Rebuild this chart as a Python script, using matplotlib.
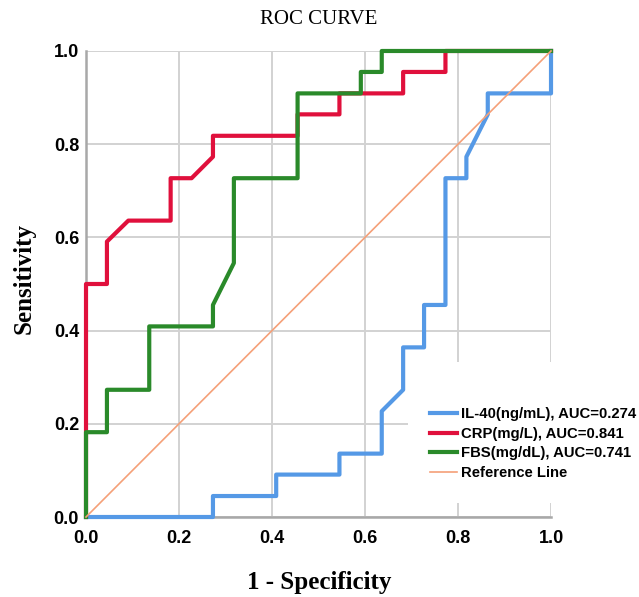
import matplotlib.pyplot as plt
from matplotlib.patches import Rectangle

# ROC points (1 - specificity, sensitivity)
il40_fpr = [0, 0.273, 0.273, 0.409, 0.409, 0.545, 0.545, 0.636, 0.636, 0.682, 0.682,
            0.727, 0.727, 0.773, 0.773, 0.818, 0.818, 0.864, 0.864, 1.0, 1.0]
il40_tpr = [0, 0, 0.045, 0.045, 0.091, 0.091, 0.136, 0.136, 0.227, 0.273, 0.364,
            0.364, 0.455, 0.455, 0.727, 0.727, 0.773, 0.864, 0.909, 0.909, 1.0]

crp_fpr = [0, 0, 0.045, 0.045, 0.091, 0.182, 0.182, 0.227, 0.273, 0.273, 0.455,
           0.455, 0.545, 0.545, 0.682, 0.682, 0.773, 0.773, 1.0]
crp_tpr = [0, 0.5, 0.5, 0.591, 0.636, 0.636, 0.727, 0.727, 0.773, 0.818, 0.818,
           0.864, 0.864, 0.909, 0.909, 0.955, 0.955, 1.0, 1.0]

fbs_fpr = [0, 0, 0.045, 0.045, 0.136, 0.136, 0.273, 0.273, 0.318, 0.318, 0.455,
           0.455, 0.591, 0.591, 0.636, 0.636, 1.0]
fbs_tpr = [0, 0.182, 0.182, 0.273, 0.273, 0.409, 0.409, 0.455, 0.545, 0.727, 0.727,
           0.909, 0.909, 0.955, 0.955, 1.0, 1.0]

ref_line = [0, 1]

labels = ["IL-40(ng/mL), AUC=0.274", "CRP(mg/L), AUC=0.841",
          "FBS(mg/dL), AUC=0.741", "Reference Line"]
ticks = [0.0, 0.2, 0.4, 0.6, 0.8, 1.0]

BLUE = "#5599e6"
RED = "#e0103c"
GREEN = "#2a8a2a"
ORANGE = "#f5a078"

fig = plt.figure(figsize=(6.39, 5.97), dpi=100)
ax = fig.add_axes([0.1346, 0.134, 0.7277, 0.7806])

ax.plot(il40_fpr, il40_tpr, color=BLUE, lw=3, clip_on=False, zorder=3, label=labels[0])
ax.plot(crp_fpr, crp_tpr, color=RED, lw=3, clip_on=False, zorder=4, label=labels[1])
ax.plot(fbs_fpr, fbs_tpr, color=GREEN, lw=3, clip_on=False, zorder=5, label=labels[2])
ax.plot(ref_line, ref_line, color=ORANGE, lw=1.2, clip_on=False, zorder=6, label=labels[3])

ax.set_xlim(0, 1)
ax.set_ylim(0, 1)
ax.set_xticks(ticks)
ax.set_yticks(ticks)
ax.set_xticklabels(["%.1f" % t for t in ticks])
ax.set_yticklabels(["%.1f" % t for t in ticks])
ax.set_axisbelow(True)
ax.grid(True, color="#d2d2d2", lw=1.4)
ax.tick_params(length=0, labelsize=13)
ax.tick_params(axis="x", pad=9)
ax.tick_params(axis="y", pad=5)
for lab in ax.get_xticklabels() + ax.get_yticklabels():
    lab.set_fontfamily("Liberation Sans")
    lab.set_fontweight("bold")

for s in ["top", "right"]:
    ax.spines[s].set_visible(False)
for s in ["left", "bottom"]:
    ax.spines[s].set_color("#a8a8a8")
    ax.spines[s].set_linewidth(1.8)

# white backing behind the legend (hides grid)
ax.add_patch(Rectangle((0.692, 0.03), 0.4, 0.303, transform=ax.transAxes,
                       facecolor="white", edgecolor="none", zorder=1, clip_on=False))

leg = ax.legend(loc="center left", bbox_to_anchor=(0.668, 0.257),
                bbox_transform=fig.transFigure, frameon=False,
                prop={"family": "Liberation Sans", "weight": "bold", "size": 10.7},
                handlelength=1.8, handletextpad=0.3, labelspacing=0.38,
                borderpad=0.2, borderaxespad=0)

fig.text(0.498, 0.968, "ROC CURVE", ha="center", va="center",
         family="Liberation Serif", fontsize=15)
fig.text(0.499, 0.024, "1 - Specificity", ha="center", va="center",
         family="Liberation Serif", fontweight="bold", fontsize=18)
fig.text(0.038, 0.533, "Sensitivity", ha="center", va="center", rotation=90,
         family="Liberation Serif", fontweight="bold", fontsize=18)

fig.savefig("out.png", dpi=100)
